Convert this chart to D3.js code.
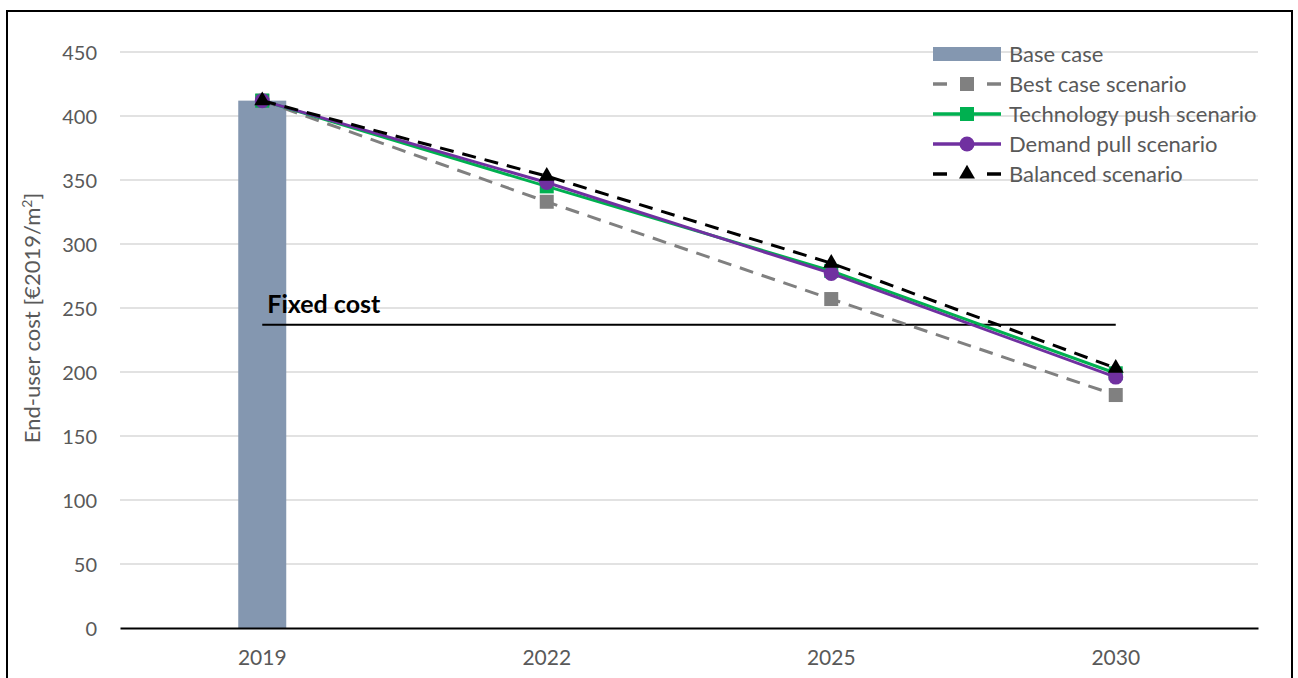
<!DOCTYPE html>
<html>
<head>
<meta charset="utf-8">
<script src="https://cdn.jsdelivr.net/npm/d3@7"></script>
<style>
  html, body { margin: 0; padding: 0; background: #fff; }
  svg { display: block; font-family: Lato, "Open Sans", sans-serif; }
</style>
</head>
<body>
<svg id="chart" width="1298" height="678"></svg>
<script>
// Years on the category axis
const years = ["2019", "2022", "2025", "2030"];
// Base case bar (only present for 2019)
const baseCase = [412, null, null, null];
// Scenario trajectories (€2019/m²)
const bestCase = [412, 333, 257, 182];
const techPush = [412, 345, 279, 199];
const demandPull = [412, 348, 277, 196];
const balanced = [412, 353, 285, 203];
// Fixed cost reference level
const fixedCost = 237;
// Y axis ticks
const yTicks = [0, 50, 100, 150, 200, 250, 300, 350, 400, 450];

const svg = d3.select("#chart");
const plot = { left: 120, right: 1258, top: 52, bottom: 628 };

const x = d3.scaleBand().domain(years).range([plot.left, plot.right]).padding(0);
const y = d3.scaleLinear().domain([0, 450]).range([plot.bottom, plot.top]);
const cx = d => x(d) + x.bandwidth() / 2;

// outer frame
svg.append("rect")
  .attr("x", 7).attr("y", 11).attr("width", 1285).attr("height", 680)
  .attr("fill", "none").attr("stroke", "#000").attr("stroke-width", 2);

// gridlines
svg.append("g").selectAll("line").data(yTicks.filter(t => t > 0)).join("line")
  .attr("x1", plot.left).attr("x2", plot.right)
  .attr("y1", d => y(d)).attr("y2", d => y(d))
  .attr("stroke", "#d9d9d9").attr("stroke-width", 1.3);

// y tick labels
const yAxis = d3.axisLeft(y).tickValues(yTicks).tickSize(0).tickPadding(0);
const gy = svg.append("g").attr("transform", `translate(${plot.left - 23},0)`).call(yAxis);
gy.select(".domain").remove();
gy.selectAll("text").attr("fill", "#595959").attr("font-size", 20).attr("font-family", "Lato, sans-serif").attr("dy", "0.35em");

// axis title
svg.append("text")
  .attr("transform", `translate(40,${(plot.top + plot.bottom) / 2 - 22}) rotate(-90)`)
  .attr("text-anchor", "middle")
  .attr("fill", "#595959").attr("font-size", 22)
  .html("End-user cost [€2019/m<tspan dy='-8' font-size='14'>2</tspan><tspan dy='8'>]</tspan>");

// base case bar
const barW = 48;
svg.append("g").selectAll("rect").data(years.map((yr, i) => ({ yr, v: baseCase[i] })).filter(d => d.v != null))
  .join("rect")
  .attr("x", d => cx(d.yr) - barW / 2).attr("width", barW)
  .attr("y", d => y(d.v)).attr("height", d => y(0) - y(d.v))
  .attr("fill", "#8497b0");

// x axis
const xAxis = d3.axisBottom(x).tickSize(0).tickPadding(22);
const gx = svg.append("g").attr("transform", `translate(0,${plot.bottom})`).call(xAxis);
gx.select(".domain").attr("stroke", "#000").attr("stroke-width", 2.2);
gx.selectAll("text").attr("fill", "#595959").attr("font-size", 21).attr("font-family", "Lato, sans-serif");

// fixed cost line and label
svg.append("line")
  .attr("x1", cx(years[0])).attr("x2", cx(years[years.length - 1]))
  .attr("y1", y(fixedCost)).attr("y2", y(fixedCost))
  .attr("stroke", "#000").attr("stroke-width", 2);
svg.append("text")
  .attr("x", cx(years[0]) + 5).attr("y", y(fixedCost) - 12)
  .attr("font-size", 25).attr("font-weight", "bold").attr("fill", "#000")
  .text("Fixed cost");

const line = d3.line().x((d, i) => cx(years[i])).y(d => y(d));

const series = [
  { name: "Best case scenario", data: bestCase, color: "#808080", dash: "14,9", marker: "square", width: 3 },
  { name: "Technology push scenario", data: techPush, color: "#00b050", dash: null, marker: "square", width: 3 },
  { name: "Demand pull scenario", data: demandPull, color: "#7030a0", dash: null, marker: "circle", width: 3 },
  { name: "Balanced scenario", data: balanced, color: "#000000", dash: "14,9", marker: "triangle", width: 3 }
];

function drawMarker(g, type, color, px, py) {
  if (type === "square") {
    g.append("rect").attr("x", px - 7).attr("y", py - 7).attr("width", 14).attr("height", 14).attr("fill", color);
  } else if (type === "circle") {
    g.append("circle").attr("cx", px).attr("cy", py).attr("r", 7.5).attr("fill", color);
  } else {
    g.append("path").attr("transform", `translate(${px},${py})`)
      .attr("d", d3.symbol().type(d3.symbolTriangle).size(110)()).attr("fill", color);
  }
}

series.forEach(s => {
  const g = svg.append("g");
  g.append("path").datum(s.data).attr("d", line)
    .attr("fill", "none").attr("stroke", s.color).attr("stroke-width", s.width)
    .attr("stroke-dasharray", s.dash);
  s.data.forEach((v, i) => drawMarker(g, s.marker, s.color, cx(years[i]), y(v)));
});

// legend
const lg = svg.append("g").attr("transform", "translate(933,54)");
lg.append("rect").attr("x", 0).attr("y", -7).attr("width", 68).attr("height", 14).attr("fill", "#8497b0");
lg.append("text").attr("x", 76).attr("y", 0).attr("dy", "0.35em").attr("font-size", 22).attr("fill", "#595959").text("Base case");
series.forEach((s, i) => {
  const yy = 30 * (i + 1);
  const row = lg.append("g").attr("transform", `translate(0,${yy})`);
  if (s.dash) {
    row.append("line").attr("x1", 0).attr("x2", 14).attr("stroke", s.color).attr("stroke-width", 3.5);
    row.append("line").attr("x1", 54).attr("x2", 68).attr("stroke", s.color).attr("stroke-width", 3.5);
  } else {
    row.append("line").attr("x1", 0).attr("x2", 68).attr("stroke", s.color).attr("stroke-width", 3.5);
  }
  drawMarker(row, s.marker, s.color, 34, 0);
  row.append("text").attr("x", 76).attr("y", 0).attr("dy", "0.35em").attr("font-size", 22).attr("fill", "#595959").text(s.name);
});
</script>
</body>
</html>
